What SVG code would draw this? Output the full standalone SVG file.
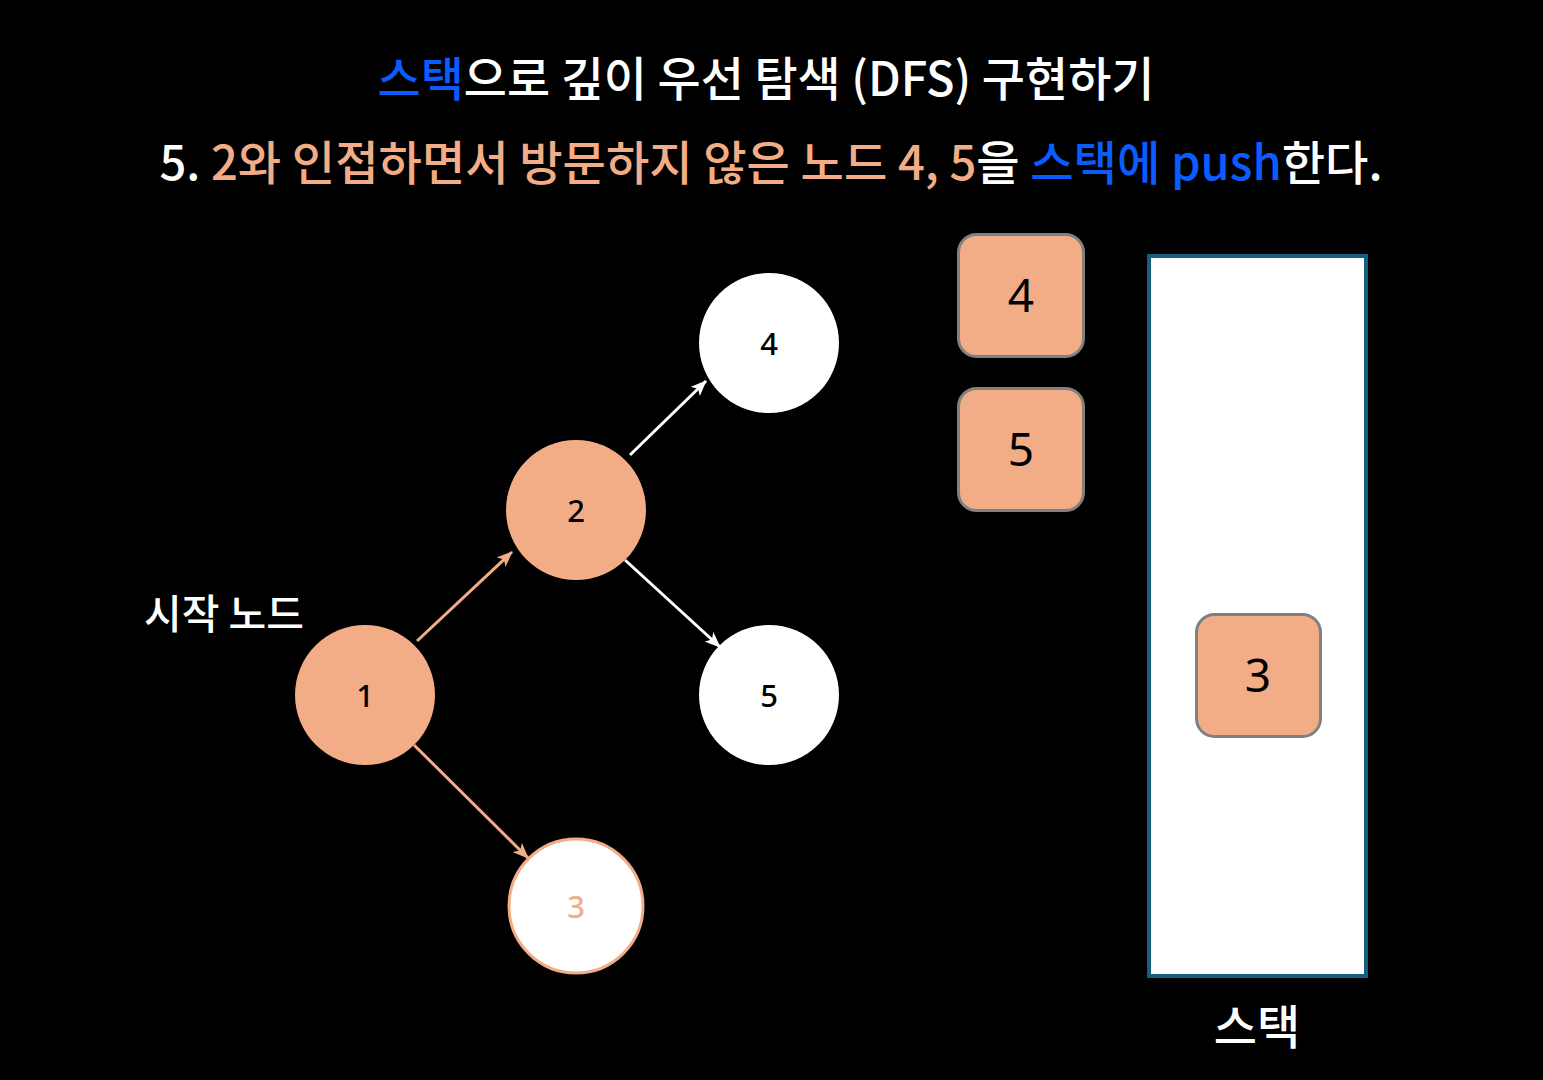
<svg xmlns="http://www.w3.org/2000/svg" width="1543" height="1080" viewBox="0 0 1543 1080">
<style>
.t{font-family:"Noto Sans CJK KR","Noto Sans",sans-serif;font-weight:500}
.w{fill:#ffffff}.o{fill:#F2AC86}.b{fill:#0A5CFF}
.num{font-family:"Noto Sans","Noto Sans CJK KR",sans-serif;font-size:31px;font-weight:500;text-anchor:middle;dominant-baseline:central}
.bn{font-family:"Noto Sans","Noto Sans CJK KR",sans-serif;font-size:46px;text-anchor:middle;dominant-baseline:central;fill:#000}
.box{fill:#F2AC86;stroke:#808080;stroke-width:3}
</style>
<defs>
<marker id="ao" viewBox="0 0 16 13" refX="15" refY="6.5" markerWidth="16" markerHeight="13" markerUnits="userSpaceOnUse" orient="auto"><path d="M0,0 L16,6.5 L0,13 L4,6.5 Z" fill="#F2AC86"/></marker>
<marker id="aw" viewBox="0 0 16 13" refX="15" refY="6.5" markerWidth="16" markerHeight="13" markerUnits="userSpaceOnUse" orient="auto"><path d="M0,0 L16,6.5 L0,13 L4,6.5 Z" fill="#ffffff"/></marker>
</defs>
<rect width="1543" height="1080" fill="#000"/>
<text class="t" x="766" y="96" font-size="47" text-anchor="middle" textLength="777" lengthAdjust="spacingAndGlyphs"><tspan class="b">스택</tspan><tspan class="w">으로 깊이 우선 탐색 (DFS) 구현하기</tspan></text>
<text class="t" x="771" y="180" font-size="47" text-anchor="middle" textLength="1223" lengthAdjust="spacingAndGlyphs"><tspan class="w">5. </tspan><tspan class="o">2와 인접하면서 방문하지 않은 노드 4, 5</tspan><tspan class="w">을 </tspan><tspan class="b">스택에 push</tspan><tspan class="w">한다.</tspan></text>
<text class="t w" x="224" y="629" font-size="41" text-anchor="middle">시작 노드</text>
<g id="connectors" stroke-width="3" fill="none">
<line x1="417" y1="641" x2="512" y2="552" stroke="#F2AC86" marker-end="url(#ao)"/>
<line x1="414" y1="745" x2="528" y2="858" stroke="#F2AC86" marker-end="url(#ao)"/>
<line x1="630" y1="455" x2="706" y2="381" stroke="#ffffff" marker-end="url(#aw)"/>
<line x1="625" y1="560" x2="720" y2="647" stroke="#ffffff" marker-end="url(#aw)"/>
</g>
<g id="node1"><circle cx="365" cy="695" r="70" fill="#F2AC86"/><text class="num" x="365" y="695" fill="#000">1</text></g>
<g id="node2"><circle cx="576" cy="510" r="70" fill="#F2AC86"/><text class="num" x="576" y="510" fill="#000">2</text></g>
<g id="node4"><circle cx="769" cy="343" r="70" fill="#fff"/><text class="num" x="769" y="343" fill="#000">4</text></g>
<g id="node5"><circle cx="769" cy="695" r="70" fill="#fff"/><text class="num" x="769" y="695" fill="#000">5</text></g>
<g id="node3"><circle cx="576" cy="906" r="67" fill="#fff" stroke="#F2AC86" stroke-width="3"/><text class="num" x="576" y="906" fill="#F2AC86">3</text></g>
<g id="stack"><rect x="1149" y="256" width="217" height="720" fill="#fff" stroke="#16607F" stroke-width="4"/></g>
<g id="box4"><rect class="box" x="958.5" y="234.5" width="125" height="122" rx="18"/><text class="bn" x="1021" y="294">4</text></g>
<g id="box5"><rect class="box" x="958.5" y="388.5" width="125" height="122" rx="18"/><text class="bn" x="1021" y="448">5</text></g>
<g id="box3"><rect class="box" x="1196.5" y="614.5" width="124" height="122" rx="18"/><text class="bn" x="1258" y="674">3</text></g>
<text class="t w" x="1257" y="1044" font-size="47" text-anchor="middle">스택</text>
</svg>
